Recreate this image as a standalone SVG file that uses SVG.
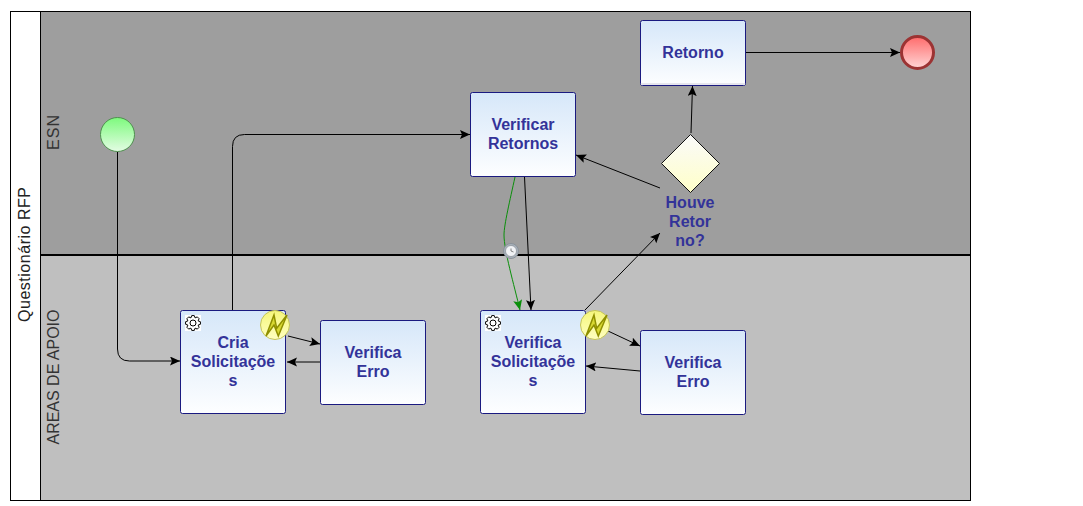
<svg xmlns="http://www.w3.org/2000/svg" width="1083" height="506" viewBox="0 0 1083 506">
<style>
text{font-family:"Liberation Sans",Arial,sans-serif}
.lane{font-size:16px;fill:#333;text-anchor:middle}
.t{font-size:16px;font-weight:bold;fill:#333399;text-anchor:middle}
.task{fill:url(#tg);stroke:#1a1a80;stroke-width:1}
.c{fill:none;stroke:#000;stroke-width:1;marker-end:url(#a)}
</style>
<defs>
<linearGradient id="tg" x1="0" y1="0" x2="0" y2="1"><stop offset="0" stop-color="#d6e7f9"/><stop offset="1" stop-color="#fdfeff"/></linearGradient>
<linearGradient id="gs" x1="0" y1="0" x2="0" y2="1"><stop offset="0" stop-color="#7dfa7d"/><stop offset="1" stop-color="#e4fce4"/></linearGradient>
<linearGradient id="ge" x1="0" y1="0" x2="0" y2="1"><stop offset="0" stop-color="#ff6b6b"/><stop offset="1" stop-color="#ffd6d6"/></linearGradient>
<linearGradient id="gd" x1="0" y1="0" x2="0" y2="1"><stop offset="0" stop-color="#fafafa"/><stop offset="1" stop-color="#ffffc8"/></linearGradient>
<linearGradient id="gb" x1="0" y1="0" x2="0" y2="1"><stop offset="0" stop-color="#f6f67a"/><stop offset="1" stop-color="#ffffc0"/></linearGradient>
<marker id="a" markerUnits="userSpaceOnUse" markerWidth="11" markerHeight="10" refX="10" refY="4.500" orient="auto"><path d="M0 0L10 4.500L0 9L2 4.500Z" fill="#000"/></marker>
<marker id="ag" markerUnits="userSpaceOnUse" markerWidth="11" markerHeight="10" refX="10" refY="4.500" orient="auto"><path d="M0 0L10 4.500L0 9L2 4.500Z" fill="#0a8f0a"/></marker>
<g id="gear"><rect x="-8" y="-8" width="16" height="16" fill="#fff"/><path d="M-1.300-7.400L1.300-7.400L2.100-5.100L4.300-6.100L6.100-4.300L5.100-2.100L7.400-1.300L7.400 1.300L5.100 2.100L6.100 4.300L4.300 6.100L2.100 5.100L1.300 7.400L-1.300 7.400L-2.100 5.100L-4.300 6.100L-6.100 4.300L-5.100 2.100L-7.400 1.300L-7.400-1.300L-5.100-2.100L-6.100-4.300L-4.300-6.100L-2.100-5.100Z" fill="#fff" stroke="#000" stroke-width="1"/><circle r="3" fill="#fff" stroke="#000" stroke-width="1"/></g>
<g id="bolt"><circle r="14.500" fill="url(#gb)" stroke="#c4c45a" stroke-width="1"/><path d="M-9 11L-1-10L1.700 3.300L12-10L3.300 11L-1 0Z" fill="#d8d830" stroke="#8f8f00" stroke-width="1.500" stroke-linejoin="miter"/></g>
</defs>
<rect width="1083" height="506" fill="#fff"/>
<g id="pool">
<rect x="10.500" y="11.500" width="960" height="489" fill="#fff" stroke="#000"/>
<rect x="40.500" y="11.500" width="930" height="243.500" fill="#9e9e9e" stroke="#000"/>
<rect x="40.500" y="255" width="930" height="245.500" fill="#bfbfbf" stroke="#000"/>
<line x1="40" y1="255" x2="971" y2="255" stroke="#000" stroke-width="2"/>
<text class="lane" transform="translate(30,254.500) rotate(-90)" textLength="135" style="fill:#222">Questionário RFP</text>
<text class="lane" transform="translate(59,132.500) rotate(-90)" textLength="35">ESN</text>
<text class="lane" transform="translate(59,377) rotate(-90)" textLength="135">AREAS DE APOIO</text>
</g>
<g id="connectors">
<path class="c" d="M117.500 152V349Q117.500 361 129.500 361H180"/>
<path class="c" d="M232.500 310V146.500Q232.500 134.500 244.500 134.500H470"/>
<path class="c" d="M288 336L320 344"/>
<path class="c" d="M320 362H287"/>
<path class="c" d="M524.500 177L531 310"/>
<path d="M515 177C510 200 504 225 504 235C504 250 514 285 520 310" fill="none" stroke="#0a8f0a" stroke-width="1" marker-end="url(#ag)"/>
<path class="c" d="M585 310L660 233"/>
<path class="c" d="M608 331L640 346"/>
<path class="c" d="M640 371L586 366"/>
<path class="c" d="M660 188L576 155"/>
<path class="c" d="M691 133L692.500 86"/>
<path class="c" d="M746 52.500H900"/>
</g>
<g id="start"><circle cx="117.500" cy="134.500" r="17" fill="url(#gs)" stroke="#4f8f4f" stroke-width="1"/></g>
<g id="end"><circle cx="917.500" cy="52.500" r="16" fill="url(#ge)" stroke="#9c3333" stroke-width="3"/></g>
<g id="retorno"><rect class="task" x="640.500" y="20.500" width="105" height="65" rx="2"/><rect x="641" y="83" width="104" height="2" fill="#e6e6ee"/><text class="t" x="693" y="58">Retorno</text></g>
<g id="verificar-retornos"><rect class="task" x="470.500" y="92.500" width="105" height="84" rx="2"/><text class="t" x="523" y="130">Verificar</text><text class="t" x="523" y="149">Retornos</text></g>
<g id="gateway"><path d="M690.500 134.500L719.500 163.500L690.500 192.500L661.500 163.500Z" fill="url(#gd)" stroke="#111" stroke-width="1"/><text class="t" x="690" y="208">Houve</text><text class="t" x="690" y="227">Retor</text><text class="t" x="690" y="246">no?</text></g>
<g id="cria"><rect class="task" x="180.500" y="310.500" width="105" height="103" rx="2"/><use href="#gear" x="193" y="323"/><text class="t" x="233" y="348">Cria</text><text class="t" x="233" y="367">Solicitaçõe</text><text class="t" x="233" y="386">s</text><use href="#bolt" x="275" y="325"/></g>
<g id="erro1"><rect class="task" x="320.500" y="320.500" width="105" height="84" rx="2"/><text class="t" x="373" y="358">Verifica</text><text class="t" x="373" y="377">Erro</text></g>
<g id="verifica"><rect class="task" x="480.500" y="310.500" width="105" height="103" rx="2"/><use href="#gear" x="493" y="323"/><text class="t" x="533" y="348">Verifica</text><text class="t" x="533" y="367">Solicitaçõe</text><text class="t" x="533" y="386">s</text><use href="#bolt" x="595" y="325"/></g>
<g id="erro2"><rect class="task" x="640.500" y="330.500" width="105" height="84" rx="2"/><text class="t" x="693" y="368">Verifica</text><text class="t" x="693" y="387">Erro</text></g>
<g id="timer"><circle cx="511" cy="251" r="7.500" fill="#a9b2bb" stroke="#8a929a"/><circle cx="511" cy="251" r="5.500" fill="#f0f2f5" stroke="#7a828a" stroke-width="0.600"/><path d="M511 248.500V251L513.500 252" fill="none" stroke="#555" stroke-width="0.700"/></g>
</svg>
